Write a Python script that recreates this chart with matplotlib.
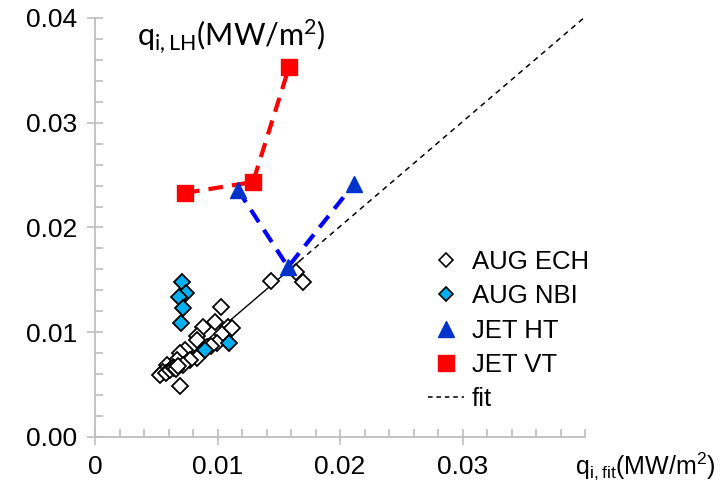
import matplotlib
matplotlib.use("Agg")
import matplotlib.pyplot as plt
import numpy as np
from matplotlib.lines import Line2D
from matplotlib.ticker import MultipleLocator

# ---- data ----
aug_ech_x = [0.01437, 0.01698, 0.01641, 0.01029, 0.00882, 0.00980, 0.01086, 0.00833,
             0.01037, 0.00996, 0.00914, 0.00833, 0.00735, 0.00694, 0.00833, 0.00669,
             0.00776, 0.00588, 0.00555, 0.00531, 0.00694, 0.00637, 0.00718, 0.01118,
             0.00947, 0.00580, 0.00612, 0.00645, 0.00661, 0.00678]
aug_ech_y = [0.01489, 0.01480, 0.01575, 0.01241, 0.01050, 0.01098, 0.01050, 0.00964,
             0.00983, 0.00897, 0.00859, 0.00926, 0.00831, 0.00802, 0.00754, 0.00735,
             0.00735, 0.00687, 0.00621, 0.00592, 0.00487, 0.00668, 0.00687, 0.01041,
             0.00869, 0.00611, 0.00640, 0.00659, 0.00649, 0.00678]

aug_nbi_x = [0.00710, 0.00743, 0.00686, 0.00718, 0.00702, 0.00898, 0.01094]
aug_nbi_y = [0.01480, 0.01375, 0.01337, 0.01231, 0.01088, 0.00830, 0.00897]

jet_ht_x = [0.01167, 0.01576, 0.02114]
jet_ht_y = [0.02358, 0.01623, 0.02415]

jet_vt_x = [0.00735, 0.01290, 0.01584]
jet_vt_y = [0.02330, 0.02434, 0.03530]

fit_slope = 1.0
fit_intercept = 0.0001
fit_solid_range = [0.0053, 0.0167]
fit_dashed_range = [0.0167, 0.0400]

x_ticks = [0, 0.01, 0.02, 0.03]
x_tick_labels = ["0", "0.01", "0.02", "0.03"]
y_ticks = [0.00, 0.01, 0.02, 0.03, 0.04]
y_tick_labels = ["0.00", "0.01", "0.02", "0.03", "0.04"]

labels = ["AUG ECH", "AUG NBI", "JET HT", "JET VT", "fit"]

# ---- figure ----
W, H = 720, 492
fig = plt.figure(figsize=(W / 100, H / 100), dpi=100)
ax = fig.add_axes([95 / W, (H - 437) / H, 490 / W, 419 / H])
ax.set_xlim(0, 0.04)
ax.set_ylim(0, 0.04)

tick_font = "Liberation Sans"
spine_col = "#bfbfbf"

for s in ["top", "right"]:
    ax.spines[s].set_visible(False)
for s in ["left", "bottom"]:
    ax.spines[s].set_color(spine_col)
    ax.spines[s].set_linewidth(1.3)

ax.set_xticks(x_ticks)
ax.set_xticklabels(x_tick_labels)
ax.set_yticks(y_ticks)
ax.set_yticklabels(y_tick_labels)
ax.xaxis.set_minor_locator(MultipleLocator(0.002))
ax.yaxis.set_minor_locator(MultipleLocator(0.002))
ax.tick_params(which="major", direction="inout", length=12, width=1.2, color=spine_col,
               labelsize=19, pad=7)
ax.tick_params(which="minor", direction="in", length=6, width=1.2, color=spine_col)
for lab in ax.get_xticklabels() + ax.get_yticklabels():
    lab.set_fontfamily(tick_font)

# fit line
xs = np.array(fit_solid_range)
ax.plot(xs, fit_slope * xs + fit_intercept, color="black", lw=1.0, zorder=2)
xd = np.array(fit_dashed_range)
ax.plot(xd, fit_slope * xd + fit_intercept, color="black", lw=1.1,
        dashes=(3.5, 3), zorder=2)

# AUG ECH
ax.plot(aug_ech_x, aug_ech_y, ls="none", marker="D", ms=8.5, mfc="white",
        mec="black", mew=1.3, zorder=3)
# AUG NBI
ax.plot(aug_nbi_x, aug_nbi_y, ls="none", marker="D", ms=8.5, mfc="#00b0f0",
        mec="black", mew=1.3, zorder=4)
# JET HT
ax.plot(jet_ht_x, jet_ht_y, color="#0000ff", lw=3, dashes=(3.5, 2.2), zorder=5)
ax.plot(jet_ht_x, jet_ht_y, ls="none", marker="^", ms=12, mfc="#0033cc",
        mec="#0033cc", zorder=6)
# JET VT
ax.plot(jet_vt_x, jet_vt_y, color="#ff0000", lw=3, dashes=(3.5, 2.2), zorder=5)
ax.plot(jet_vt_x, jet_vt_y, ls="none", marker="s", ms=12, mfc="#ff0000",
        mec="#ff0000", zorder=6)

# legend
handles = [
    Line2D([], [], ls="none", marker="D", ms=7, mfc="white", mec="black", mew=1.2),
    Line2D([], [], ls="none", marker="D", ms=7, mfc="#00b0f0", mec="black", mew=1.2),
    Line2D([], [], ls="none", marker="^", ms=11, mfc="#0033cc", mec="#0033cc"),
    Line2D([], [], ls="none", marker="s", ms=11, mfc="#ff0000", mec="#ff0000"),
    Line2D([], [], color="black", lw=1.1, dashes=(3, 2.5)),
]
leg = fig.legend(handles, labels, loc="upper left", bbox_to_anchor=(428 / W, 1 - 250 / H),
                 frameon=False, labelspacing=0.4, handlelength=1.4,
                 handletextpad=0.3, borderpad=0, borderaxespad=0,
                 prop={"family": tick_font, "size": 18.5})

# axis labels
fig.text(137 / W, 1 - 36 / H, r"$\mathregular{q_{i,LH}(MW/m^2)}$", fontsize=22,
         family="Lato", va="center", ha="left")
fig.text(575 / W, 1 - 466 / H, r"$\mathregular{q_{i,fit}(MW/m^2)}$", fontsize=18,
         family=tick_font, va="center", ha="left")

fig.savefig("out.png", dpi=100)
